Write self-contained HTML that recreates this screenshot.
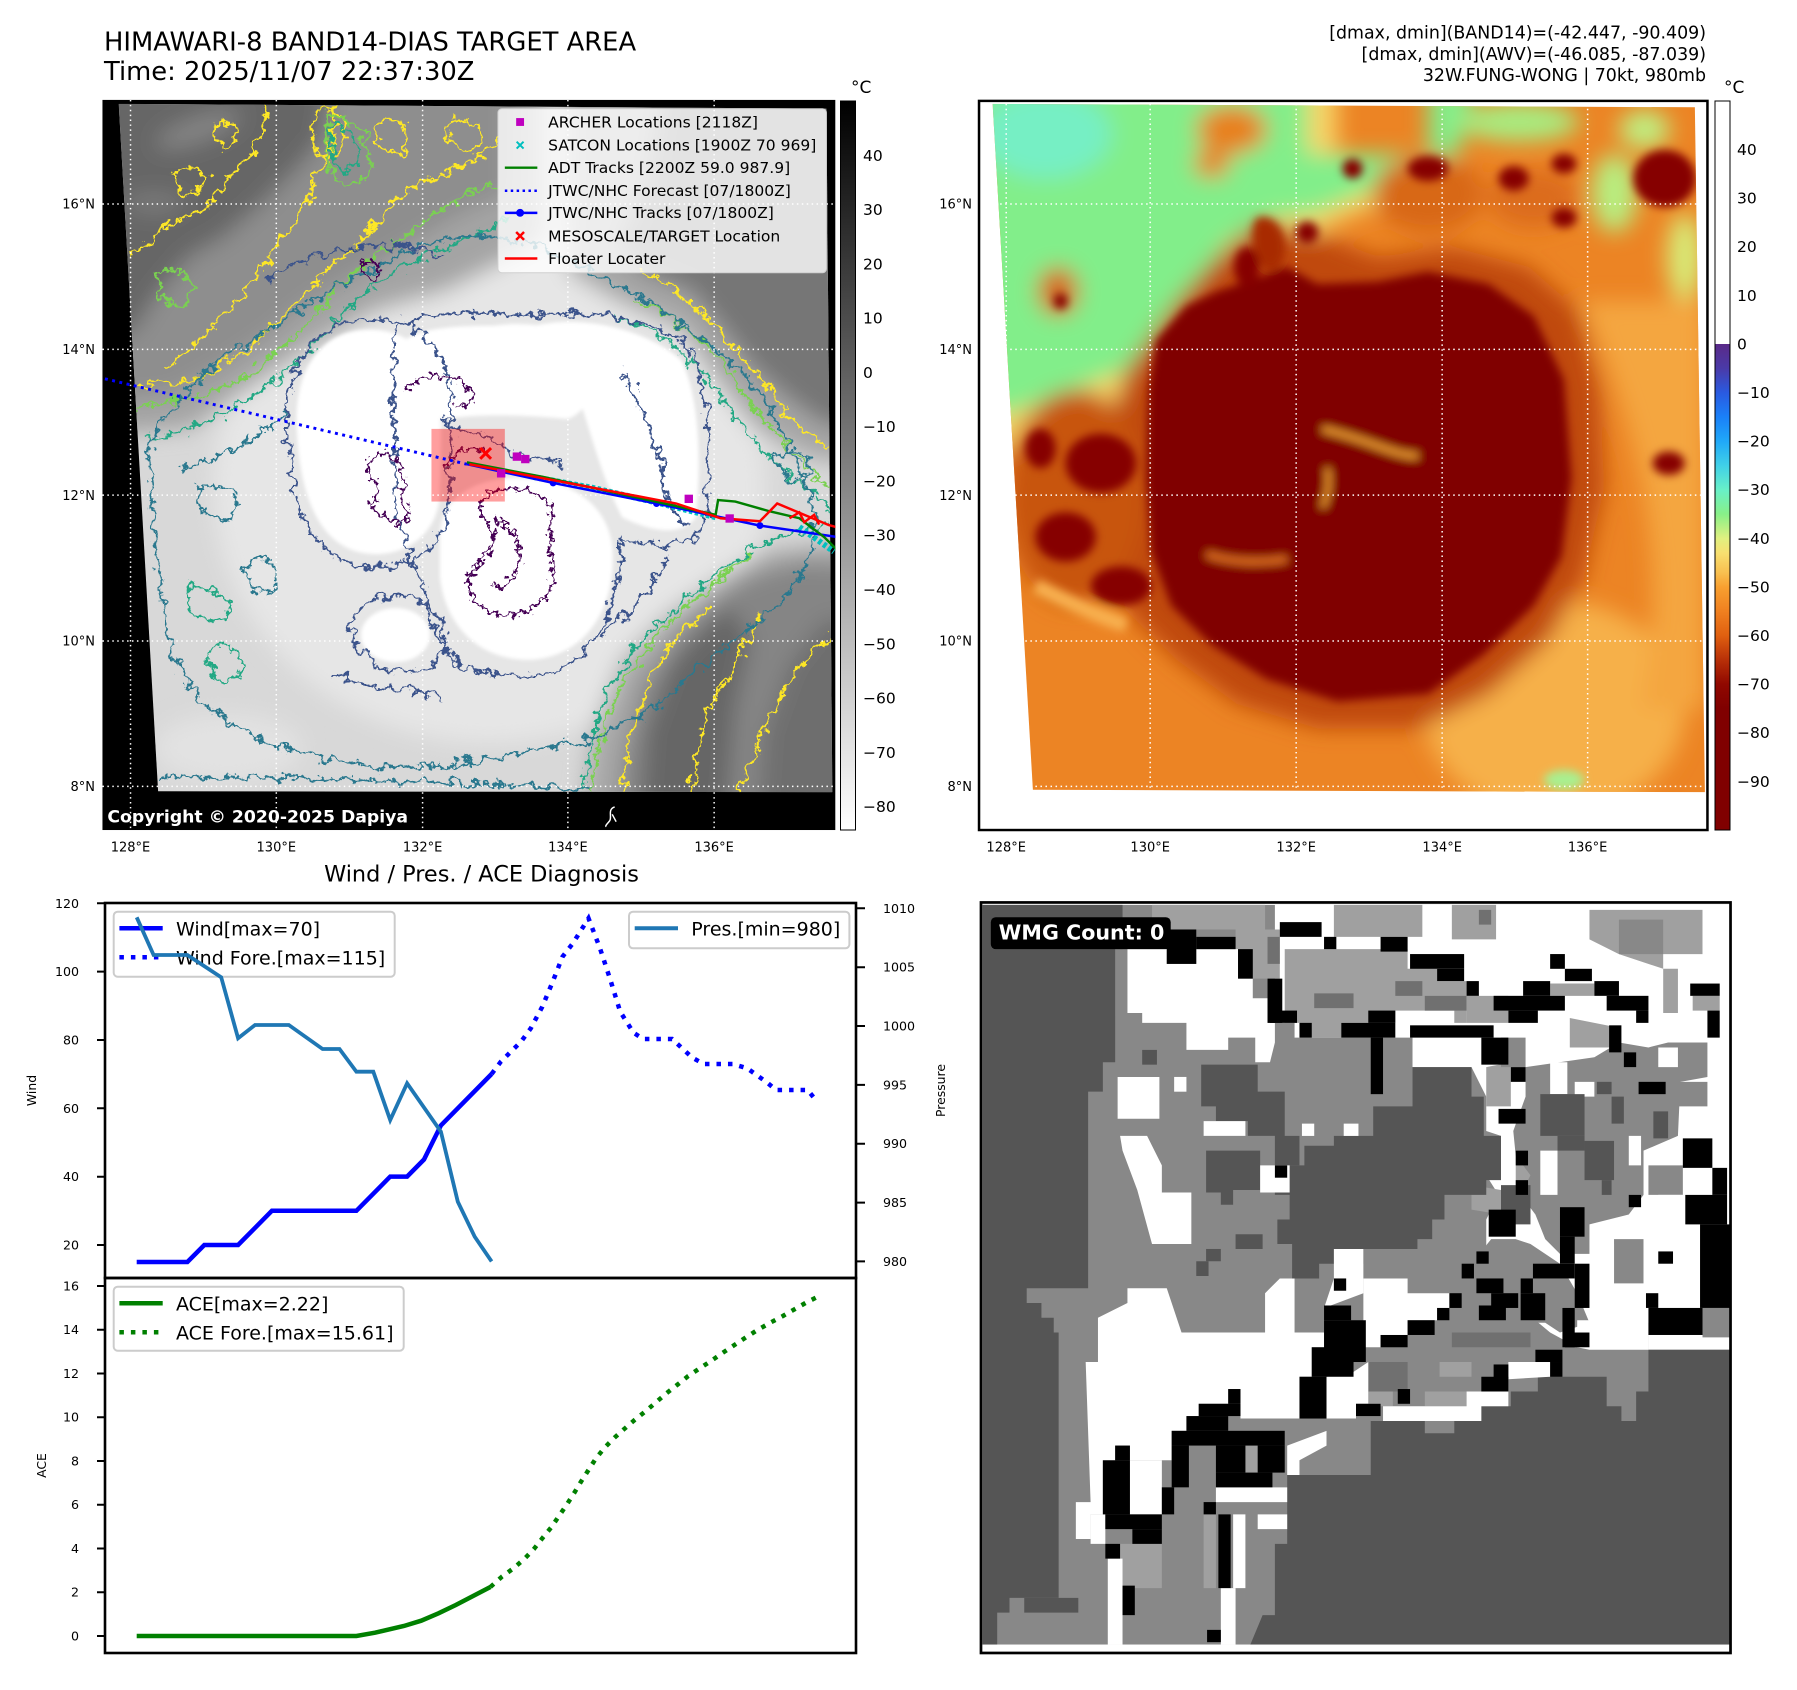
<!DOCTYPE html>
<html><head><meta charset="utf-8">
<style>
html,body{margin:0;padding:0;background:#fff;}
svg{display:block;}
</style></head><body>
<svg width="1797" height="1690" viewBox="0 0 1797 1690" xmlns="http://www.w3.org/2000/svg" font-family="'DejaVu Sans','Liberation Sans',sans-serif">
<defs>
 <filter id="bl25" filterUnits="userSpaceOnUse" x="-300" y="-300" width="2200" height="2200"><feGaussianBlur stdDeviation="22"/></filter>
 <filter id="bl10" filterUnits="userSpaceOnUse" x="-300" y="-300" width="2200" height="2200"><feGaussianBlur stdDeviation="9"/></filter>
 <filter id="bl4" filterUnits="userSpaceOnUse" x="-300" y="-300" width="2200" height="2200"><feGaussianBlur stdDeviation="4"/></filter>
 <filter id="wob" filterUnits="userSpaceOnUse" x="-300" y="-300" width="2200" height="2200">
  <feTurbulence type="fractalNoise" baseFrequency="0.045" numOctaves="4" seed="4" result="n"/>
  <feDisplacementMap in="SourceGraphic" in2="n" scale="40" xChannelSelector="R" yChannelSelector="G"/>
 </filter>
 <filter id="wob2" filterUnits="userSpaceOnUse" x="-300" y="-300" width="2200" height="2200">
  <feTurbulence type="fractalNoise" baseFrequency="0.08" numOctaves="3" seed="9" result="n"/>
  <feDisplacementMap in="SourceGraphic" in2="n" scale="32" xChannelSelector="R" yChannelSelector="G"/>
 </filter>
 <clipPath id="clipL"><polygon points="38,18 1475,28 1487,1420 118,1418"/></clipPath>
 <clipPath id="clipLax"><rect x="5" y="10" width="1488" height="1487"/></clipPath>
 <clipPath id="clipR"><polygon points="35,18 1430,25 1450,1420 115,1415"/></clipPath>
 <clipPath id="clipW"><rect x="5" y="8" width="1520" height="1522"/></clipPath>
 <linearGradient id="cbL" x1="0" y1="0" x2="0" y2="1"><stop offset="0" stop-color="#000"/><stop offset="1" stop-color="#fff"/></linearGradient>
 <linearGradient id="cbR" gradientUnits="userSpaceOnUse" x1="0" y1="344" x2="0" y2="830">
  <stop offset="0" stop-color="#5a2a88"/><stop offset="0.05" stop-color="#4a3aa8"/><stop offset="0.10" stop-color="#2a5ae0"/>
  <stop offset="0.15" stop-color="#1a80f8"/><stop offset="0.20" stop-color="#20a8f8"/><stop offset="0.25" stop-color="#40d0e8"/>
  <stop offset="0.30" stop-color="#68f0c8"/><stop offset="0.35" stop-color="#88f088"/><stop offset="0.40" stop-color="#e0f080"/>
  <stop offset="0.43" stop-color="#f8e070"/><stop offset="0.47" stop-color="#f8c050"/><stop offset="0.50" stop-color="#f8a030"/>
  <stop offset="0.55" stop-color="#f08020"/><stop offset="0.60" stop-color="#e06010"/><stop offset="0.65" stop-color="#b83008"/>
  <stop offset="0.70" stop-color="#900800"/><stop offset="0.75" stop-color="#800000"/><stop offset="1" stop-color="#800000"/>
 </linearGradient>
</defs>
<rect width="1797" height="1690" fill="#fff"/>

<!-- Titles -->
<text x="104" y="50.5" font-size="25.8" fill="#000">HIMAWARI-8 BAND14-DIAS TARGET AREA</text>
<text x="104" y="80" font-size="25.8" fill="#000">Time: 2025/11/07 22:37:30Z</text>
<g font-size="17.4" text-anchor="end" fill="#000">
 <text x="1706" y="38.5">[dmax, dmin](BAND14)=(-42.447, -90.409)</text>
 <text x="1706" y="60">[dmax, dmin](AWV)=(-46.085, -87.039)</text>
 <text x="1706" y="81">32W.FUNG-WONG | 70kt, 980mb</text>
</g>
<text x="851" y="93" font-size="17" fill="#000">°C</text>
<text x="1724" y="93" font-size="17" fill="#000">°C</text>

<!-- ===== LEFT MAP ===== -->
<g transform="translate(100,95) scale(0.4925,0.491)">
 <rect x="5" y="10" width="1488" height="1487" fill="#000"/>
 <g clip-path="url(#clipL)">
  <rect x="0" y="0" width="1560" height="1560" fill="#d8d8d8"/>
  <g filter="url(#bl25)">
   <ellipse cx="790" cy="800" rx="560" ry="520" fill="#e6e6e6"/>
   <path d="M560,-50 L900,-50 L900,300 L700,400 L560,440 L420,520 L300,600 L180,680 L60,690 L-50,680 L-50,560 Z" fill="#a4a4a4"/>
   <path d="M470,-50 L830,-50 L830,200 L720,250 L620,310 L520,370 L430,420 L330,500 L240,560 L150,610 L60,620 L-50,600 L-50,500 Z" fill="#8e8e8e"/>
   <path d="M-50,-50 L470,-50 L450,90 L400,150 L330,220 L250,290 L180,330 L120,400 L70,480 L-50,520 Z" fill="#666"/>
   <ellipse cx="200" cy="70" rx="90" ry="25" fill="#858585" transform="rotate(-20 200 70)"/>
   <ellipse cx="110" cy="220" rx="60" ry="20" fill="#7c7c7c"/>
   <path d="M950,-50 L1600,-50 L1600,760 L1450,740 L1330,680 L1250,580 L1180,480 L1050,420 L950,360 Z" fill="#a6a6a6"/>
   <path d="M1150,-50 L1600,-50 L1600,690 L1470,670 L1400,620 L1330,560 L1260,470 L1200,400 L1100,360 L1050,300 L1100,200 Z" fill="#767676"/>
   <path d="M960,1600 L1000,1300 L1060,1150 L1150,1060 L1250,990 L1350,930 L1600,900 L1600,1600 Z" fill="#a8a8a8"/>
   <path d="M1040,1600 L1060,1350 L1100,1200 L1180,1090 L1260,1020 L1320,980 L1420,950 L1600,960 L1600,1600 Z" fill="#858585"/>
   <path d="M1090,1600 L1110,1300 L1160,1160 L1230,1080 L1280,1040 L1320,1110 L1290,1250 L1260,1600 Z" fill="#666"/>
   <path d="M1330,1600 L1350,1300 L1400,1160 L1470,1070 L1600,1070 L1600,1600 Z" fill="#6e6e6e"/>
   <ellipse cx="260" cy="1330" rx="150" ry="70" fill="#e2e2e2"/>
  </g>
  <g filter="url(#bl4)" fill="#fff">
   <path d="M400,690 C390,560 450,480 540,478 C620,476 660,520 680,560 C700,620 690,760 690,820 C680,900 620,935 560,935 C470,935 410,860 400,690 Z"/>
   <path d="M620,500 C650,470 760,470 800,470 C860,460 960,470 1000,520 C1010,580 1000,640 950,660 C850,650 760,650 700,660 C650,640 620,560 620,500 Z"/>
   <path d="M850,480 C950,440 1100,470 1180,540 C1220,620 1220,760 1210,860 C1180,900 1120,890 1060,860 C1020,780 1000,700 980,640 C930,560 870,520 850,480 Z"/>
   <path d="M690,900 C690,820 760,780 850,780 C950,780 1030,830 1040,920 C1050,1040 990,1140 880,1150 C770,1155 700,1080 690,980 Z"/>
   <ellipse cx="600" cy="1100" rx="70" ry="55"/>
  </g>
  <g fill="none" stroke-width="5" filter="url(#wob)">
   <g stroke="#fde725">
    <path d="M60,330 C100,300 130,260 170,250 C220,240 250,180 290,140 C320,110 330,60 340,20"/>
    <path d="M130,560 C180,520 230,470 270,430 C320,380 340,320 380,280 C420,240 430,170 460,120 C480,80 470,40 480,20"/>
    <path d="M60,600 C120,580 180,600 230,560 C300,520 360,470 420,400 C460,350 520,320 560,260 C600,210 640,180 700,160 C760,140 790,110 810,90"/>
    <path d="M1100,360 C1150,380 1200,420 1240,460 C1290,520 1330,560 1370,620 C1410,680 1450,700 1490,720"/>
    <path d="M1060,1420 C1070,1330 1090,1250 1120,1190 C1150,1120 1200,1080 1240,1040"/>
    <path d="M1200,1420 C1210,1330 1230,1260 1270,1190 C1300,1140 1320,1100 1340,1050"/>
    <path d="M1300,1420 C1320,1350 1350,1280 1380,1230 C1420,1160 1450,1120 1490,1100"/>
    <path d="M440,30 C500,20 520,80 480,120 C450,150 420,100 440,30 Z"/>
    <path d="M240,60 C270,40 290,80 260,100 C240,110 230,80 240,60 Z"/>
    <path d="M560,60 C600,40 640,70 620,110 C600,140 560,110 560,60 Z"/>
    <path d="M700,60 C740,40 780,60 770,100 C750,130 700,110 700,60 Z"/>
    <path d="M160,150 C200,130 230,170 200,200 C170,220 140,190 160,150 Z"/>
   </g>
   <g stroke="#7ad151">
    <path d="M60,640 C140,620 220,620 300,570 C370,520 420,470 470,410 C520,350 580,320 630,280 C690,230 740,200 810,180"/>
    <path d="M1080,420 C1150,440 1210,480 1260,540 C1310,610 1360,680 1410,730 C1440,760 1470,790 1490,800"/>
    <path d="M1000,1420 C1010,1320 1040,1230 1080,1170 C1130,1100 1180,1050 1230,1010 C1260,980 1290,960 1320,930"/>
    <path d="M460,40 C520,40 560,100 540,160 C520,200 470,180 460,130 Z"/>
    <path d="M120,360 C160,340 200,380 180,420 C160,450 110,420 120,360 Z"/>
   </g>
   <g stroke="#22a884">
    <path d="M90,700 C180,690 260,650 330,600 C400,550 440,500 500,440 C560,380 620,340 700,310 C780,280 820,260 840,240"/>
    <path d="M980,1420 C990,1330 1010,1250 1050,1180 C1100,1100 1160,1050 1220,1000 C1280,950 1330,920 1380,900 C1430,890 1460,880 1490,870"/>
    <path d="M1040,450 C1120,470 1190,520 1250,600 C1300,680 1360,740 1420,790 C1450,820 1480,840 1490,850"/>
    <path d="M180,1000 C260,1010 290,1050 240,1070 C200,1080 170,1040 180,1000 Z"/>
    <path d="M230,1120 C300,1130 310,1180 260,1190 C220,1190 210,1150 230,1120 Z"/>
    <path d="M470,60 C520,60 540,120 510,150 C480,170 460,120 470,60 Z"/>
   </g>
   <g stroke="#2a788e">
    <path d="M100,720 C150,600 260,520 360,470 C430,420 500,380 580,340 C650,300 720,280 800,290 C880,300 960,330 1040,380 C1120,430 1220,480 1300,560 C1380,650 1420,750 1450,850 C1460,930 1420,1000 1360,1050 C1300,1100 1240,1150 1180,1200 C1120,1260 1040,1300 960,1320 C860,1340 760,1360 640,1370 C520,1370 400,1350 300,1300 C220,1260 160,1200 140,1100 C120,1000 110,900 100,720 Z"/>
    <path d="M130,1390 C300,1385 500,1395 700,1400 C850,1405 950,1410 1000,1415"/>
    <path d="M1370,740 C1400,710 1440,730 1440,760 C1440,790 1390,800 1370,740 Z"/>
    <path d="M200,800 C250,780 300,820 270,860 C240,880 190,850 200,800 Z"/>
    <path d="M300,950 C350,930 380,980 350,1010 C320,1030 280,990 300,950 Z"/>
    <path d="M160,760 C250,740 330,700 380,640"/>
   </g>
   <g stroke="#3b528b">
    <path d="M380,700 C370,540 440,460 550,455 C640,450 690,510 705,570 C720,650 710,780 705,850 C690,930 630,960 560,960 C450,960 390,870 380,700 Z"/>
    <path d="M600,480 C650,440 780,440 860,450 C960,440 1100,440 1190,510 C1240,580 1240,750 1230,870 C1200,920 1130,930 1060,900 C1050,1000 1040,1100 950,1160 C880,1200 780,1190 720,1150 C680,1110 660,1060 660,1000 C640,960 600,900 600,800 C600,700 590,560 600,480 Z"/>
    <path d="M510,1100 C510,1030 580,1010 620,1020 C690,1035 710,1090 690,1140 C660,1190 550,1190 510,1100 Z"/>
    <path d="M340,380 C450,300 600,290 700,330"/>
    <path d="M1020,1100 C1080,1050 1130,1000 1150,940"/>
    <path d="M700,660 C740,700 780,680 820,720 C860,760 900,720 940,760"/>
    <path d="M1060,560 C1090,620 1120,680 1140,760 C1150,820 1170,860 1190,880"/>
    <path d="M480,1180 C560,1220 640,1200 700,1230"/>
   </g>
  </g>
  <g fill="none" stroke="#440154" stroke-width="5" filter="url(#wob2)">
   <path d="M545,750 C560,720 600,730 610,760 C630,790 600,810 620,840 C640,870 600,880 580,860 C560,840 540,850 560,820 C580,790 540,790 545,750 Z"/>
   <path d="M780,820 C820,790 880,800 910,830 C930,870 900,920 920,960 C930,1010 880,1060 830,1060 C780,1060 740,1020 750,980 C770,950 800,930 800,900 C790,870 760,850 780,820 Z"/>
   <path d="M800,860 C830,880 860,900 850,950 C840,990 820,1010 800,1000"/>
   <path d="M620,600 C660,570 700,560 740,590 C770,610 760,640 720,630"/>
   <path d="M535,340 C560,330 575,360 560,375 C545,385 525,360 535,340 Z"/>
   <path d="M700,760 C720,720 760,710 790,730"/>
  </g>
 </g>
 <rect x="673" y="680" width="149" height="148" fill="#ff0000" fill-opacity="0.38"/>
 <g stroke="#fff" stroke-width="3" stroke-dasharray="3 7" clip-path="url(#clipLax)">
  <path d="M62,10V1497M358,10V1497M655,10V1497M950,10V1497M1247,10V1497"/>
  <path d="M5,222H1493M5,518H1493M5,815H1493M5,1112H1493M5,1408H1493"/>
 </g>
 <g clip-path="url(#clipLax)">
  <polyline points="10,578 745,752" fill="none" stroke="#0000ff" stroke-width="6" stroke-dasharray="6 9"/>
  <polyline points="880,778 1000,800 1130,830 1250,860" fill="none" stroke="#00bfbf" stroke-width="12" stroke-dasharray="7 5"/>
  <polyline points="1420,880 1490,930" fill="none" stroke="#00bfbf" stroke-width="12" stroke-dasharray="7 5"/>
  <polyline points="745,752 920,790 1130,832 1340,877 1495,900" fill="none" stroke="#0000ff" stroke-width="5"/>
  <circle cx="920" cy="790" r="7" fill="#0000ff"/><circle cx="1130" cy="832" r="7" fill="#0000ff"/><circle cx="1340" cy="877" r="7" fill="#0000ff"/>
  <polyline points="745,748 900,778 1100,822 1250,855 1255,825 1290,828 1360,848 1420,862 1470,900 1495,925" fill="none" stroke="#008000" stroke-width="5"/>
  <polyline points="750,752 1170,832 1260,862 1340,868 1375,832 1480,876 1495,880" fill="none" stroke="#ff0000" stroke-width="5"/>
  <polyline points="1400,862 1420,850 1430,870 1450,855 1460,875" fill="none" stroke="#ff0000" stroke-width="5"/>
  <g fill="#bf00bf"><rect x="838" y="728" width="17" height="17"/><rect x="855" y="733" width="17" height="17"/><rect x="806" y="762" width="17" height="17"/><rect x="1187" y="814" width="17" height="17"/><rect x="1270" y="854" width="17" height="17"/></g>
  <path d="M772,719L794,741M794,719L772,741" stroke="#ff0000" stroke-width="6"/>
 </g>
 <rect x="808" y="28" width="667" height="334" rx="8" fill="#fff" fill-opacity="0.8" stroke="#d0d0d0" stroke-width="2"/>
 <rect x="845" y="47" width="16" height="16" fill="#bf00bf"/>
 <path d="M846,95L860,109M860,95L846,109" stroke="#00bfbf" stroke-width="4"/>
 <line x1="822" y1="148" x2="888" y2="148" stroke="#008000" stroke-width="5"/>
 <line x1="822" y1="195" x2="888" y2="195" stroke="#0000ff" stroke-width="5" stroke-dasharray="5 7"/>
 <line x1="822" y1="240" x2="888" y2="240" stroke="#0000ff" stroke-width="5"/><circle cx="853" cy="240" r="8" fill="#0000ff"/>
 <path d="M845,279L861,295M861,279L845,295" stroke="#ff0000" stroke-width="5"/>
 <line x1="822" y1="333" x2="888" y2="333" stroke="#ff0000" stroke-width="5"/>
 <g font-size="31.6" fill="#000">
  <text x="910" y="66">ARCHER Locations [2118Z]</text>
  <text x="910" y="113">SATCON Locations [1900Z 70 969]</text>
  <text x="910" y="159">ADT Tracks [2200Z 59.0 987.9]</text>
  <text x="910" y="206">JTWC/NHC Forecast [07/1800Z]</text>
  <text x="910" y="251">JTWC/NHC Tracks [07/1800Z]</text>
  <text x="910" y="298">MESOSCALE/TARGET Location</text>
  <text x="910" y="344">Floater Locater</text>
 </g>
 <text x="15" y="1482" font-size="35" font-weight="bold" fill="#fff">Copyright © 2020-2025 Dapiya</text>
 <path d="M1045,1450 C1030,1455 1040,1470 1035,1478 C1030,1485 1025,1488 1028,1490 M1040,1465 L1048,1480" stroke="#fff" stroke-width="3" fill="none"/>
</g>
<g font-size="13" fill="#000" text-anchor="end">
 <text x="95" y="208.7">16°N</text><text x="95" y="354">14°N</text><text x="95" y="500">12°N</text><text x="95" y="645.7">10°N</text><text x="95" y="791">8°N</text>
</g>
<g font-size="13" fill="#000" text-anchor="middle">
 <text x="130.5" y="851.5">128°E</text><text x="276.3" y="851.5">130°E</text><text x="422.6" y="851.5">132°E</text><text x="567.9" y="851.5">134°E</text><text x="714.1" y="851.5">136°E</text>
</g>
<rect x="840.5" y="101" width="15" height="729" fill="url(#cbL)" stroke="#000" stroke-width="1"/>
<g font-size="15.5" fill="#000">
 <text x="863" y="160.8">40</text><text x="863" y="215">30</text><text x="863" y="269.3">20</text><text x="863" y="323.6">10</text><text x="863" y="377.9">0</text>
 <text x="863" y="432.2">−10</text><text x="863" y="486.5">−20</text><text x="863" y="540.7">−30</text><text x="863" y="595">−40</text><text x="863" y="649.3">−50</text>
 <text x="863" y="703.6">−60</text><text x="863" y="757.9">−70</text><text x="863" y="812.2">−80</text>
</g>

<!-- ===== RIGHT MAP ===== -->
<g transform="translate(975,95) scale(0.5034,0.491)">
 <rect x="8" y="12" width="1447" height="1485" fill="#fff"/>
 <g clip-path="url(#clipR)">
  <rect x="0" y="0" width="1560" height="1560" fill="#ec8424"/>
  <g filter="url(#bl25)">
   <ellipse cx="1150" cy="1250" rx="260" ry="220" fill="#f6b04a"/>
   <path d="M1200,420 C1310,650 1390,950 1320,1250 L1450,1250 L1450,420 Z" fill="#f4a640"/>
   <path d="M-50,-50 L720,-50 L720,170 L900,160 L960,-50 L1000,-50 L940,170 L880,210 L760,240 L680,280 L600,320 L520,380 L470,450 L420,520 L360,600 L260,650 L160,700 L60,720 L-50,740 Z" fill="#f6d468"/>
   <path d="M-50,-50 L660,-50 L660,120 L900,120 L900,-50 L1000,-50 L960,120 L880,170 L770,200 L680,240 L590,250 L500,300 L450,380 L400,450 L360,500 L300,560 L220,590 L150,620 L60,650 L-50,660 Z" fill="#82ee8a"/>
   <ellipse cx="140" cy="80" rx="130" ry="90" fill="#76efc4"/>
   <ellipse cx="1080" cy="55" rx="120" ry="40" fill="#a8ec80"/>
   <ellipse cx="1270" cy="200" rx="45" ry="80" fill="#b8ee80"/>
   <ellipse cx="1330" cy="70" rx="50" ry="40" fill="#c0ee80"/>
   <ellipse cx="1410" cy="330" rx="35" ry="90" fill="#d8ec78"/>
   <ellipse cx="900" cy="200" rx="110" ry="80" fill="#d86818"/>
   <ellipse cx="1110" cy="210" rx="90" ry="60" fill="#dc6c1a"/>
   <ellipse cx="510" cy="70" rx="70" ry="50" fill="#e8801c"/>
   <ellipse cx="470" cy="140" rx="35" ry="30" fill="#e88020"/>
   <ellipse cx="165" cy="400" rx="40" ry="50" fill="#d86010"/>
   <path d="M560,260 L700,290 L800,330 L950,310 L1100,350 L1200,440 L1240,600 L1250,800 L1210,980 L1140,1110 L1020,1220 L880,1290 L680,1290 L520,1240 L400,1150 L300,1050 L260,900 L260,700 L300,560 L400,420 L480,330 Z" fill="#c04a0c"/>
   <ellipse cx="200" cy="820" rx="140" ry="220" fill="#c85410"/>
  </g>
  <g filter="url(#bl10)">
   <path d="M540,380 L620,350 L680,385 L800,380 L900,360 L1020,385 L1110,450 L1170,580 L1185,780 L1165,940 L1110,1040 L1010,1140 L900,1220 L720,1235 L580,1190 L470,1120 L390,1040 L350,930 L340,780 L345,600 L360,500 L420,430 L480,400 Z" fill="#800000"/>
   <path d="M560,250 C590,240 620,270 615,320 C610,360 580,370 565,340 C550,310 545,270 560,250 Z" fill="#a82a06"/>
   <g fill="#860400">
    <ellipse cx="250" cy="750" rx="70" ry="60"/><ellipse cx="180" cy="900" rx="60" ry="50"/><ellipse cx="290" cy="1000" rx="60" ry="40"/><ellipse cx="130" cy="720" rx="30" ry="40"/>
    <ellipse cx="1370" cy="170" rx="62" ry="58"/><ellipse cx="900" cy="150" rx="40" ry="25"/><ellipse cx="1170" cy="140" rx="25" ry="20"/>
    <ellipse cx="1070" cy="170" rx="30" ry="25"/><ellipse cx="1170" cy="250" rx="25" ry="20"/><ellipse cx="540" cy="350" rx="25" ry="40"/>
    <ellipse cx="660" cy="280" rx="22" ry="22"/><ellipse cx="750" cy="150" rx="20" ry="20"/><ellipse cx="1378" cy="750" rx="32" ry="24"/>
    <ellipse cx="170" cy="420" rx="14" ry="16"/>
   </g>
   <path d="M690,680 C730,690 760,700 800,715 C840,730 860,735 880,735" stroke="#f0a030" stroke-width="12" fill="none"/>
   <path d="M700,760 C705,790 700,820 690,840" stroke="#f0a030" stroke-width="10" fill="none"/>
   <path d="M460,935 C500,950 560,955 620,945" stroke="#e07020" stroke-width="14" fill="none"/>
   <path d="M120,1000 C180,1030 240,1060 300,1080" stroke="#f8b050" stroke-width="30" fill="none"/>
   <ellipse cx="1170" cy="1395" rx="40" ry="20" fill="#a8f090"/>
  </g>
 </g>
 <g stroke="#fff" stroke-width="3" stroke-dasharray="3 7">
  <path d="M62,18V1415M348,18V1415M638,18V1418M928,18V1418M1217,18V1418"/>
  <path d="M40,222H1435M40,518H1440M40,815H1442M40,1112H1445M40,1408H1448"/>
 </g>
 <rect x="8" y="12" width="1447" height="1485" fill="none" stroke="#000" stroke-width="5"/>
</g>
<g font-size="13" fill="#000" text-anchor="end">
 <text x="972" y="208.7">16°N</text><text x="972" y="354">14°N</text><text x="972" y="500">12°N</text><text x="972" y="645.7">10°N</text><text x="972" y="791">8°N</text>
</g>
<g font-size="13" fill="#000" text-anchor="middle">
 <text x="1006.2" y="851.5">128°E</text><text x="1150.2" y="851.5">130°E</text><text x="1296.2" y="851.5">132°E</text><text x="1442.2" y="851.5">134°E</text><text x="1587.6" y="851.5">136°E</text>
</g>
<rect x="1715" y="101" width="15" height="243" fill="#fff"/>
<rect x="1715" y="344" width="15" height="486" fill="url(#cbR)"/>
<rect x="1715" y="101" width="15" height="729" fill="none" stroke="#000" stroke-width="1"/>
<g font-size="15.5" fill="#000">
 <text x="1737" y="155">40</text><text x="1737" y="203.6">30</text><text x="1737" y="252.2">20</text><text x="1737" y="300.8">10</text><text x="1737" y="349.4">0</text>
 <text x="1737" y="398">−10</text><text x="1737" y="446.6">−20</text><text x="1737" y="495.2">−30</text><text x="1737" y="543.8">−40</text><text x="1737" y="592.4">−50</text>
 <text x="1737" y="641">−60</text><text x="1737" y="689.6">−70</text><text x="1737" y="738.2">−80</text><text x="1737" y="786.8">−90</text>
</g>

<!-- ===== BOTTOM LEFT CHARTS ===== -->
<text x="481.5" y="881.5" font-size="22.4" text-anchor="middle" fill="#000">Wind / Pres. / ACE Diagnosis</text>
<g stroke="#000" stroke-width="2">
 <path d="M97,903.3H105M97,971.6H105M97,1040H105M97,1108.3H105M97,1176.7H105M97,1245H105"/>
 <path d="M856,908.3H865M856,967.2H865M856,1026H865M856,1084.9H865M856,1143.7H865M856,1202.6H865M856,1261.4H865"/>
 <path d="M97,1286H105M97,1329.8H105M97,1373.5H105M97,1417.3H105M97,1461H105M97,1504.8H105M97,1548.5H105M97,1592.3H105M97,1636H105"/>
</g>
<g font-size="12.6" fill="#000" text-anchor="end">
 <text x="79" y="908">120</text><text x="79" y="976">100</text><text x="79" y="1044.5">80</text><text x="79" y="1113">60</text><text x="79" y="1181">40</text><text x="79" y="1249.5">20</text>
 <text x="79" y="1290.5">16</text><text x="79" y="1334">14</text><text x="79" y="1378">12</text><text x="79" y="1421.5">10</text><text x="79" y="1465.5">8</text>
 <text x="79" y="1509">6</text><text x="79" y="1553">4</text><text x="79" y="1596.5">2</text><text x="79" y="1640.5">0</text>
</g>
<g font-size="12.6" fill="#000">
 <text x="883" y="913">1010</text><text x="883" y="971.5">1005</text><text x="883" y="1030.5">1000</text><text x="883" y="1089.5">995</text><text x="883" y="1148">990</text><text x="883" y="1207">985</text><text x="883" y="1266">980</text>
</g>
<text transform="translate(36,1090.5) rotate(-90)" font-size="12.4" text-anchor="middle" fill="#000">Wind</text>
<text transform="translate(945,1090.5) rotate(-90)" font-size="12.4" text-anchor="middle" fill="#000">Pressure</text>
<text transform="translate(46,1465.5) rotate(-90)" font-size="12.4" text-anchor="middle" fill="#000">ACE</text>

<polyline points="136.7,1262 187.4,1262 204.3,1245 238.1,1245 271.9,1210.8 356.4,1210.8 390.2,1176.6 407.1,1176.6 424,1159.5 440.9,1125.4 491.6,1074" fill="none" stroke="#0000ff" stroke-width="4.5"/>
<polyline points="491.6,1074 500.8,1061.7 521,1041.7 530.8,1028.3 542.3,1006.7 552.7,981.7 562.5,956.7 572.9,943.3 588.5,918.3 600,948.3 610.4,980 620.2,1011.7 633.5,1032.7 643.3,1039 672.1,1039 692.3,1057.7 703.9,1064 732.7,1064 747.2,1068.3 767.3,1082.7 776,1090 807.7,1090 815.2,1099.3" fill="none" stroke="#0000ff" stroke-width="4.5" stroke-dasharray="4.5 7"/>
<rect x="113.7" y="911.7" width="281" height="65" rx="4" fill="#fff" fill-opacity="0.8" stroke="#cccccc" stroke-width="2"/>
<line x1="119.4" y1="928.3" x2="162.7" y2="928.3" stroke="#0000ff" stroke-width="4.5"/>
<line x1="119.4" y1="957.3" x2="162.7" y2="957.3" stroke="#0000ff" stroke-width="4.5" stroke-dasharray="4.5 7"/>
<g font-size="19" fill="#000">
 <text x="176" y="935.3">Wind[max=70]</text>
 <text x="176" y="964.3">Wind Fore.[max=115]</text>
</g>
<polyline points="136.7,917.3 153.6,955 187.4,955 221.2,977.3 238.1,1038.3 255,1025 288.8,1025 322.6,1049 339.5,1049 356.4,1071.7 373.3,1071.7 390.2,1120 407.1,1083.3 440.9,1131.7 457.8,1201.7 474.7,1236.7 491.6,1261.4" fill="none" stroke="#1f77b4" stroke-width="3.8"/>
<rect x="629" y="911.7" width="220.4" height="36.6" rx="4" fill="#fff" fill-opacity="0.8" stroke="#cccccc" stroke-width="2"/>
<line x1="634.7" y1="928.3" x2="678" y2="928.3" stroke="#1f77b4" stroke-width="4"/>
<text x="691.3" y="935.3" font-size="19" fill="#000">Pres.[min=980]</text>
<polyline points="136.7,1636 356.4,1636 375,1632.7 403.9,1626 421.2,1620.7 438.5,1613.3 455.8,1605 473.1,1596 490.4,1587" fill="none" stroke="#008000" stroke-width="4.5"/>
<polyline points="490.4,1587 501.9,1576.7 513.5,1568.3 523.9,1559.3 533.7,1549.3 542.3,1538.3 551,1527.7 558.5,1516.7 566.5,1505 574,1493.3 581,1481.7 588.5,1470 596,1458.3 604.6,1447.7 614.4,1437.7 624.2,1429 634.6,1420 646.2,1410.7 656,1402.3 666.4,1393.3 677.9,1384.3 688.3,1376 699.8,1368.3 711.4,1360.7 722.9,1352.7 734.4,1345 746,1337.3 757.5,1330 770.2,1322.7 782.9,1316 794.5,1309.3 806,1302.7 819.2,1296" fill="none" stroke="#008000" stroke-width="4.5" stroke-dasharray="4.5 7"/>
<rect x="113.7" y="1286.7" width="290" height="64" rx="4" fill="#fff" fill-opacity="0.8" stroke="#cccccc" stroke-width="2"/>
<line x1="119.4" y1="1303.3" x2="162.7" y2="1303.3" stroke="#008000" stroke-width="4.5"/>
<line x1="119.4" y1="1332.3" x2="162.7" y2="1332.3" stroke="#008000" stroke-width="4.5" stroke-dasharray="4.5 7"/>
<g font-size="19" fill="#000">
 <text x="176" y="1310.3">ACE[max=2.22]</text>
 <text x="176" y="1339.3">ACE Fore.[max=15.61]</text>
</g>
<rect x="105" y="903" width="751" height="375" fill="none" stroke="#000" stroke-width="2.6"/>
<rect x="105" y="1278" width="751" height="375" fill="none" stroke="#000" stroke-width="2.6"/>

<!-- ===== WMG PANEL ===== -->
<g transform="translate(980,900) scale(0.4915,0.4915)">
 <rect x="2" y="5" width="1525" height="1527" fill="#fff"/>
 <g clip-path="url(#clipW)">
  <rect x="5" y="10" width="1520" height="1505" fill="#888"/>
  <path d="M600,10 L1525,10 L1525,915 L1360,915 L1360,860 L1240,880 L1215,910 L1160,880 L1100,830 L1065,800 L1040,780 L1030,740 L1030,650 L1055,600 L1030,560 L1060,540 L1060,480 L1030,470 L1030,400 L1000,340 L880,340 L880,280 L640,280 L640,250 L600,250 Z" fill="#fff"/>
  <g fill="#a0a0a0">
   <path d="M350,10 L580,10 L580,60 L350,60 Z"/>
   <path d="M520,60 L610,60 L610,160 L555,160 L555,100 L520,100 Z"/>
   <path d="M720,10 L900,10 L900,75 L720,75 Z"/>
   <path d="M960,10 L1050,10 L1050,80 L960,80 Z"/>
   <path d="M620,100 L870,100 L870,140 L930,140 L930,165 L990,165 L990,250 L965,250 L965,225 L845,225 L845,250 L735,250 L735,280 L650,280 L650,250 L620,250 Z"/>
   <path d="M1240,20 L1470,20 L1470,110 L1390,110 L1390,140 L1300,110 L1240,80 Z"/>
   <path d="M990,195 L1075,195 L1075,250 L990,250 Z"/>
   <path d="M1160,170 L1250,170 L1250,195 L1160,195 Z"/>
   <path d="M1390,140 L1420,140 L1420,230 L1390,230 Z"/>
   <path d="M1450,195 L1505,195 L1505,225 L1450,225 Z"/>
   <path d="M1030,340 L1080,330 L1080,420 L1030,420 Z"/>
   <path d="M1000,580 L1060,590 L1060,640 L1000,630 Z"/>
   <path d="M1090,520 L1140,520 L1140,600 L1090,600 Z"/>
   <path d="M1200,240 L1300,260 L1300,300 L1200,300 Z"/>
   <path d="M1080,770 L1125,770 L1125,830 L1080,830 Z"/>
   <path d="M280,1310 L370,1310 L370,1400 L280,1400 Z"/>
   <path d="M455,1250 L480,1250 L480,1400 L455,1400 Z"/>
   <path d="M540,1110 L565,1110 L565,1165 L540,1165 Z"/>
   <path d="M790,970 L840,970 L840,1030 L790,1030 Z"/>
   <path d="M905,1000 L990,1000 L990,1030 L905,1030 Z"/>
   <path d="M935,940 L1000,940 L1000,970 L935,970 Z"/>
  </g>
  <g fill="#888">
   <path d="M1110,340 L1250,320 L1300,290 L1360,300 L1400,290 L1480,290 L1480,360 L1425,370 L1420,480 L1350,510 L1350,600 L1320,640 L1240,660 L1240,720 L1180,720 L1150,690 L1130,640 L1100,600 L1120,560 L1090,520 L1085,470 L1110,400 Z"/>
   <path d="M960,770 L1000,740 L1040,690 L1090,690 L1120,700 L1180,740 L1215,800 L1240,860 L1180,880 L1150,860 L1090,860 L1040,880 L960,880 Z"/>
   <path d="M1290,690 L1350,690 L1350,780 L1290,780 Z"/>
   <path d="M1470,830 L1525,830 L1525,890 L1470,890 Z"/>
   <path d="M1060,280 L1110,280 L1110,340 L1060,340 Z"/>
   <path d="M1300,40 L1390,40 L1390,110 L1300,110 Z"/>
   <path d="M1420,370 L1480,370 L1480,420 L1420,420 Z"/>
   <path d="M1360,540 L1430,540 L1430,600 L1360,600 Z"/>
  </g>
  <g fill="#fff">
   <path d="M1160,330 L1195,330 L1195,395 L1160,395 Z"/>
   <path d="M1140,510 L1175,510 L1175,600 L1140,600 Z"/>
   <path d="M1320,480 L1345,480 L1345,540 L1320,540 Z"/>
   <path d="M1380,300 L1420,300 L1420,340 L1380,340 Z"/>
   <path d="M1210,370 L1250,370 L1250,400 L1210,400 Z"/>
   <path d="M1380,600 L1430,600 L1430,700 L1350,700 L1350,640 Z"/>
   <path d="M1250,700 L1290,700 L1290,790 L1250,760 Z"/>
   <path d="M1350,700 L1465,700 L1465,800 L1350,800 Z"/>
  </g>
  <g fill="#555">
   <path d="M5,10 L290,10 L290,100 L275,100 L275,330 L250,330 L250,390 L220,390 L220,790 L95,790 L95,820 L125,820 L125,850 L150,850 L150,880 L160,880 L160,1420 L60,1420 L60,1450 L35,1450 L35,1515 L5,1515 Z"/>
   <path d="M550,1515 L575,1455 L600,1455 L600,1310 L625,1310 L625,1170 L795,1170 L795,1060 L905,1060 L905,1085 L965,1085 L965,1060 L1020,1060 L1020,1030 L1080,1030 L1080,1000 L1135,1000 L1135,970 L1275,970 L1275,1030 L1305,1030 L1305,1060 L1335,1060 L1335,1000 L1360,1000 L1360,915 L1525,915 L1525,1515 Z"/>
   <path d="M600,540 L660,540 L660,500 L720,500 L720,480 L800,480 L800,420 L880,420 L880,340 L1000,340 L1000,400 L1025,400 L1025,480 L1060,480 L1060,570 L1030,570 L1030,600 L945,600 L945,650 L920,650 L920,690 L890,690 L890,710 L780,710 L780,740 L690,740 L690,770 L635,770 L635,700 L605,700 L605,650 L630,650 L630,600 L600,600 Z"/>
   <path d="M450,335 L565,335 L565,390 L620,390 L620,480 L650,480 L650,540 L600,540 L600,480 L545,480 L545,450 L480,450 L480,420 L450,420 Z"/>
   <path d="M460,510 L570,510 L570,590 L515,590 L515,620 L490,620 L490,595 L460,595 Z"/>
   <path d="M520,680 L575,680 L575,710 L520,710 Z"/>
   <path d="M440,735 L465,735 L465,765 L440,765 Z"/>
   <path d="M460,710 L490,710 L490,735 L460,735 Z"/>
   <path d="M330,305 L360,305 L360,335 L330,335 Z"/>
   <path d="M1140,395 L1230,395 L1230,480 L1140,480 Z"/>
   <path d="M1230,490 L1290,490 L1290,570 L1230,570 Z"/>
   <path d="M1175,480 L1230,480 L1230,510 L1175,510 Z"/>
   <path d="M1285,400 L1310,400 L1310,455 L1285,455 Z"/>
   <path d="M1370,430 L1400,430 L1400,485 L1370,485 Z"/>
   <path d="M1255,370 L1285,370 L1285,395 L1255,395 Z"/>
   <path d="M1265,570 L1285,570 L1285,600 L1265,600 Z"/>
   <path d="M1060,580 L1120,580 L1120,660 L1060,660 Z"/>
   <path d="M90,1420 L200,1420 L200,1450 L90,1450 Z"/>
  </g>
  <g fill="#707070">
   <path d="M1015,20 L1040,20 L1040,50 L1015,50 Z"/>
   <path d="M845,165 L900,165 L900,195 L845,195 Z"/>
   <path d="M680,190 L760,190 L760,220 L680,220 Z"/>
   <path d="M905,195 L990,195 L990,225 L905,225 Z"/>
   <path d="M960,880 L1120,880 L1120,910 L960,910 Z"/>
   <path d="M790,940 L870,940 L870,1000 L790,1000 Z"/>
   <path d="M585,75 L610,75 L610,130 L585,130 Z"/>
  </g>
  <g fill="#fff">
   <path d="M300,100 L380,100 L380,130 L440,130 L440,100 L525,100 L525,160 L555,160 L555,200 L585,200 L585,250 L600,250 L600,290 L590,330 L560,330 L560,280 L505,280 L505,305 L420,305 L420,250 L330,250 L330,230 L300,230 Z"/>
   <path d="M280,360 L365,360 L365,445 L280,445 Z"/>
   <path d="M395,360 L420,360 L420,390 L395,390 Z"/>
   <path d="M455,450 L540,450 L540,480 L455,480 Z"/>
   <path d="M655,455 L680,455 L680,480 L655,480 Z"/>
   <path d="M740,455 L770,455 L770,480 L740,480 Z"/>
   <path d="M570,540 L630,540 L630,595 L570,595 Z"/>
   <path d="M285,480 L340,480 L370,540 L370,595 L430,595 L430,700 L350,700 L320,590 L290,510 Z"/>
   <path d="M240,850 L300,820 L300,790 L380,790 L410,880 L580,880 L580,800 L610,770 L640,770 L640,880 L700,880 L700,830 L720,770 L720,710 L780,710 L780,800 L700,830 L700,910 L675,910 L675,970 L650,970 L650,1055 L530,1055 L530,995 L505,995 L505,1025 L445,1025 L445,1050 L420,1050 L420,1080 L390,1080 L390,1140 L305,1140 L305,1110 L275,1110 L275,1140 L250,1140 L250,1250 L225,1250 L225,1300 L195,1300 L195,1225 L225,1225 L215,940 L240,940 Z"/>
   <path d="M305,1140 L370,1140 L370,1250 L305,1250 Z"/>
   <path d="M480,1195 L625,1195 L625,1225 L480,1225 Z"/>
   <path d="M625,1110 L705,1080 L705,1110 L650,1140 L650,1170 L625,1170 Z"/>
   <path d="M705,970 L760,960 L790,940 L790,1025 L765,1025 L765,1055 L705,1055 Z"/>
   <path d="M515,1250 L540,1250 L540,1400 L515,1400 Z"/>
   <path d="M565,1250 L625,1250 L625,1280 L565,1280 Z"/>
   <path d="M225,1250 L255,1250 L255,1310 L225,1310 Z"/>
   <path d="M260,1340 L290,1340 L290,1515 L260,1515 Z"/>
   <path d="M490,1400 L520,1400 L520,1515 L490,1515 Z"/>
   <path d="M780,770 L870,770 L870,800 L955,800 L955,830 L930,830 L930,855 L870,855 L870,885 L815,885 L815,910 L780,910 Z"/>
   <path d="M820,1030 L990,1030 L990,1000 L1075,1000 L1075,1030 L1020,1030 L1020,1060 L820,1060 Z"/>
   <path d="M1075,940 L1160,940 L1160,970 L1075,975 Z"/>
   <path d="M1215,855 L1360,855 L1360,915 L1240,915 L1215,910 Z"/>
   <path d="M5,1515 L1525,1515 L1525,1532 L5,1532 Z"/>
  </g>
  <g fill="#000">
   <rect x="380" y="60" width="60" height="70"/><rect x="440" y="75" width="80" height="25"/>
   <rect x="525" y="100" width="30" height="60"/><rect x="585" y="160" width="30" height="90"/><rect x="590" y="225" width="55" height="25"/>
   <rect x="610" y="45" width="85" height="30"/><rect x="700" y="75" width="25" height="25"/><rect x="815" y="75" width="55" height="30"/>
   <rect x="875" y="110" width="110" height="30"/><rect x="930" y="140" width="55" height="25"/><rect x="990" y="165" width="25" height="30"/>
   <rect x="1045" y="195" width="145" height="30"/><rect x="1075" y="225" width="60" height="25"/><rect x="1105" y="165" width="55" height="30"/>
   <rect x="1160" y="110" width="30" height="30"/><rect x="1190" y="140" width="55" height="25"/>
   <rect x="1250" y="165" width="50" height="30"/><rect x="1275" y="195" width="85" height="30"/><rect x="1335" y="225" width="25" height="25"/>
   <rect x="1445" y="170" width="60" height="25"/><rect x="1480" y="225" width="25" height="55"/>
   <rect x="650" y="250" width="25" height="30"/><rect x="735" y="250" width="110" height="30"/><rect x="790" y="225" width="55" height="25"/><rect x="795" y="280" width="25" height="115"/>
   <rect x="875" y="255" width="170" height="25"/><rect x="1020" y="280" width="55" height="55"/>
   <rect x="1280" y="255" width="25" height="55"/><rect x="1310" y="310" width="25" height="30"/>
   <rect x="1080" y="340" width="30" height="30"/><rect x="1340" y="370" width="55" height="25"/><rect x="1055" y="425" width="55" height="30"/>
   <rect x="1090" y="510" width="25" height="30"/><rect x="1090" y="570" width="25" height="30"/><rect x="1320" y="600" width="25" height="25"/>
   <rect x="1430" y="485" width="60" height="60"/><rect x="1490" y="545" width="30" height="55"/><rect x="1435" y="600" width="85" height="60"/><rect x="1465" y="660" width="60" height="170"/>
   <rect x="1035" y="630" width="55" height="55"/><rect x="1180" y="625" width="50" height="60"/><rect x="1180" y="685" width="30" height="55"/>
   <rect x="1380" y="715" width="30" height="25"/><rect x="1010" y="715" width="25" height="25"/><rect x="980" y="740" width="25" height="30"/>
   <rect x="1125" y="740" width="85" height="30"/><rect x="1210" y="740" width="30" height="90"/>
   <rect x="1010" y="770" width="55" height="30"/><rect x="1040" y="800" width="55" height="30"/><rect x="1015" y="825" width="55" height="30"/>
   <rect x="1100" y="770" width="25" height="30"/><rect x="1100" y="800" width="50" height="55"/>
   <rect x="1185" y="830" width="25" height="80"/><rect x="1190" y="880" width="50" height="30"/>
   <rect x="1355" y="800" width="25" height="30"/><rect x="1360" y="830" width="110" height="55"/>
   <rect x="930" y="830" width="25" height="25"/><rect x="870" y="855" width="55" height="30"/><rect x="815" y="885" width="55" height="25"/><rect x="955" y="800" width="25" height="30"/>
   <rect x="720" y="770" width="25" height="25"/>
   <rect x="700" y="825" width="55" height="30"/><rect x="700" y="855" width="85" height="85"/><rect x="675" y="910" width="85" height="60"/><rect x="650" y="970" width="55" height="85"/><rect x="765" y="1025" width="50" height="25"/>
   <rect x="1130" y="915" width="55" height="25"/><rect x="1160" y="940" width="25" height="30"/><rect x="1045" y="945" width="30" height="30"/><rect x="1020" y="970" width="55" height="30"/>
   <rect x="850" y="995" width="25" height="30"/><rect x="600" y="540" width="25" height="25"/>
   <rect x="505" y="995" width="25" height="30"/><rect x="445" y="1025" width="85" height="25"/><rect x="420" y="1050" width="85" height="30"/><rect x="390" y="1080" width="230" height="30"/>
   <rect x="390" y="1110" width="35" height="85"/><rect x="480" y="1110" width="60" height="55"/><rect x="565" y="1110" width="55" height="55"/><rect x="480" y="1165" width="115" height="30"/>
   <rect x="275" y="1110" width="30" height="30"/><rect x="250" y="1140" width="55" height="110"/><rect x="255" y="1250" width="115" height="30"/><rect x="310" y="1280" width="60" height="30"/>
   <rect x="370" y="1195" width="25" height="55"/><rect x="455" y="1225" width="25" height="25"/><rect x="485" y="1250" width="25" height="150"/>
   <rect x="255" y="1310" width="30" height="30"/><rect x="290" y="1395" width="25" height="60"/><rect x="462" y="1485" width="28" height="25"/>
  </g>
 </g>
 <rect x="22" y="35" width="366" height="65" rx="10" fill="#000"/>
 <text x="38" y="80" font-size="42" font-weight="bold" fill="#fff">WMG Count: 0</text>
 <rect x="2" y="5" width="1525" height="1527" fill="none" stroke="#000" stroke-width="5.5"/>
</g>
</svg>
</body></html>
